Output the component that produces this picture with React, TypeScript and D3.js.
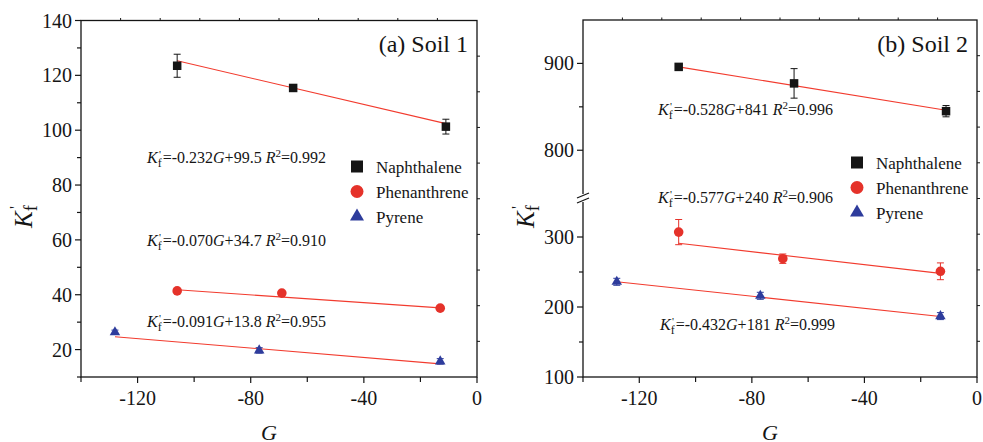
import React from 'react';
import * as d3 from 'd3';

// G values per compound
const gNaph = [-106, -65, -11];
const gPhen = [-106, -69, -13];
const gPyr = [-128, -77, -13];

// Soil 1
const soil1Naph = [123.5, 115.4, 101.3];
const soil1NaphErr = [4.2, 1, 2.7];
const soil1Phen = [41.4, 40.6, 35.1];
const soil1PhenErr = [0.8, 0.8, 0.8];
const soil1Pyr = [26.3, 19.7, 15.7];
const soil1PyrErr = [0.8, 1, 1];
const soil1Fit = [[125.3, 102.4], [41.8, 35.2], [24.7, 14.8]];
const soil1Eq = ['-0.232', '99.5', '0.992', '-0.070', '34.7', '0.910', '-0.091', '13.8', '0.955'];

// Soil 2
const soil2Naph = [896, 877, 845];
const soil2NaphErr = [3, 17, 6.5];
const soil2Phen = [307, 269, 251];
const soil2PhenErr = [18, 6.7, 12];
const soil2Pyr = [236, 216, 187];
const soil2PyrErr = [5, 5, 5];
const soil2Fit = [[896, 846], [291, 248], [236, 186.5]];
const soil2Eq = ['-0.528', '841', '0.996', '-0.577', '240', '0.906', '-0.432', '181', '0.999'];

const compounds = ['Naphthalene', 'Phenanthrene', 'Pyrene'];
const xMajor = [-120, -80, -40, 0];
const xMinor = [-140, -100, -60, -20];
const y1Major = [20, 40, 60, 80, 100, 120, 140];
const y1Minor = [10, 30, 50, 70, 90, 110, 130];
const y2Major = [100, 200, 300, 800, 900];
const y2Minor = [150, 250, 850];

const FONT = "'Liberation Serif', 'DejaVu Serif', serif";
const BLACK = '#151515';
const RED = '#e5322a';
const BLUE = '#2e3c9c';
const FIT = '#f23b2e';
const colors = [BLACK, RED, BLUE];

function Marker({ kind, x, y, big }: { kind: number; x: number; y: number; big?: boolean }) {
  if (kind === 0) {
    const s = big ? 12 : 8.5;
    return <rect x={x - s / 2} y={y - s / 2} width={s} height={s} fill={BLACK} />;
  }
  if (kind === 1) return <circle cx={x} cy={y} r={big ? 6.5 : 4.8} fill={RED} />;
  const side = big ? 14 : 10.5;
  const path = d3.symbol(d3.symbolTriangle, (Math.sqrt(3) / 4) * side * side)();
  return <path d={path || ''} transform={`translate(${x},${y})`} fill={BLUE} />;
}

function Equation({ x, y, a, b, r }: { x: number; y: number; a: string; b: string; r: string }) {
  return (
    <g fontFamily={FONT} fill={BLACK}>
      <text x={x} y={y} fontSize={16}>
        <tspan fontStyle="italic">K</tspan>
        <tspan fontSize={12} dy={4}>f</tspan>
        <tspan dy={-4} dx={1}>={a}</tspan>
        <tspan fontStyle="italic">G</tspan>
        <tspan>+{b} </tspan>
        <tspan fontStyle="italic">R</tspan>
        <tspan fontSize={11} dy={-6}>2</tspan>
        <tspan dy={6}>={r}</tspan>
      </text>
      <text x={x + 12} y={y - 5} fontSize={11}>'</text>
    </g>
  );
}

type PanelProps = {
  left: number;
  right: number;
  top: number;
  bottom: number;
  y: (v: number) => number;
  yMajor: number[];
  yMinor: number[];
  series: number[][];
  errs: number[][];
  fits: number[][];
  eq: string[];
  eqPos: number[][];
  title: string;
  legendX: number;
  legendY: number;
  broken?: boolean;
};

function Panel(p: PanelProps) {
  const x = d3.scaleLinear().domain([-140, 0]).range([p.left, p.right]);
  const gs = [gNaph, gPhen, gPyr];
  const frac = d3.range(1, 10).map((i) => i / 10);
  return (
    <g fontFamily={FONT}>
      {/* fit lines */}
      {p.fits.map((f, i) => (
        <line key={'f' + i} x1={x(gs[i][0])} y1={p.y(f[0])} x2={x(gs[i][2])} y2={p.y(f[1])} stroke={FIT} strokeWidth={1.1} />
      ))}
      {/* error bars */}
      {p.series.map((s, i) =>
        s.map((v, j) => {
          const cx = x(gs[i][j]);
          const y0 = p.y(v - p.errs[i][j]);
          const y1 = p.y(v + p.errs[i][j]);
          return (
            <g key={`e${i}-${j}`} stroke={colors[i]} strokeWidth={1}>
              <line x1={cx} x2={cx} y1={y0} y2={y1} />
              <line x1={cx - 3.5} x2={cx + 3.5} y1={y0} y2={y0} />
              <line x1={cx - 3.5} x2={cx + 3.5} y1={y1} y2={y1} />
            </g>
          );
        })
      )}
      {p.series.map((s, i) =>
        s.map((v, j) => <Marker key={`m${i}-${j}`} kind={i} x={x(gs[i][j])} y={p.y(v)} />)
      )}
      {/* frame */}
      <rect x={p.left} y={p.top} width={p.right - p.left} height={p.bottom - p.top} fill="none" stroke={BLACK} strokeWidth={1.3} />
      {/* bottom axis */}
      {xMajor.map((t) => (
        <g key={'xm' + t}>
          <line x1={x(t)} x2={x(t)} y1={p.bottom} y2={p.bottom + 6} stroke={BLACK} strokeWidth={1.2} />
          <text x={x(t)} y={p.bottom + 28} textAnchor="middle" fontSize={20} fill={BLACK}>{t}</text>
        </g>
      ))}
      {xMinor.map((t) => (
        <line key={'xn' + t} x1={x(t)} x2={x(t)} y1={p.bottom} y2={p.bottom + 5} stroke={BLACK} strokeWidth={1.2} />
      ))}
      {/* left axis */}
      {p.yMajor.map((t) => (
        <g key={'ym' + t}>
          <line x1={p.left - 6} x2={p.left} y1={p.y(t)} y2={p.y(t)} stroke={BLACK} strokeWidth={1.2} />
          <text x={p.left - 9} y={p.y(t)} dy="0.35em" textAnchor="end" fontSize={20} fill={BLACK}>{t}</text>
        </g>
      ))}
      {p.yMinor.map((t) => (
        <line key={'yn' + t} x1={p.left - 4} x2={p.left} y1={p.y(t)} y2={p.y(t)} stroke={BLACK} strokeWidth={1.2} />
      ))}
      {/* top and right ticks */}
      {frac.map((f) => {
        const tx = p.left + f * (p.right - p.left);
        const ty = p.top + f * (p.bottom - p.top);
        return (
          <g key={'tr' + f} stroke={BLACK} strokeWidth={1}>
            <line x1={tx} x2={tx} y1={p.top} y2={p.top - 2.5} />
            <line x1={p.right} x2={p.right + 3} y1={ty} y2={ty} />
          </g>
        );
      })}
      {p.broken && (
        <g stroke={BLACK} strokeWidth={1.3}>
          <rect x={p.left - 6} y={194} width={12} height={8} fill="white" stroke="none" />
          <line x1={p.left - 6} y1={198} x2={p.left + 6} y2={193} />
          <line x1={p.left - 6} y1={203} x2={p.left + 6} y2={198} />
        </g>
      )}
      {/* title */}
      <text x={p.right - 9} y={52} textAnchor="end" fontSize={24} fill={BLACK}>{p.title}</text>
      {/* legend */}
      {compounds.map((c, i) => (
        <g key={c}>
          <Marker kind={i} x={p.legendX} y={p.legendY + i * 25} big />
          <text x={p.legendX + 19} y={p.legendY + i * 25 + 6} fontSize={17} fill={BLACK}>{c}</text>
        </g>
      ))}
      {/* equations */}
      {p.eqPos.map((pos, i) => (
        <Equation key={'eq' + i} x={pos[0]} y={pos[1]} a={p.eq[i * 3]} b={p.eq[i * 3 + 1]} r={p.eq[i * 3 + 2]} />
      ))}
      {/* axis titles */}
      <text x={(p.left + p.right) / 2 - 10} y={440} textAnchor="middle" fontSize={22} fontStyle="italic" fill={BLACK}>G</text>
      <g transform={`translate(${p.left - 49},228) rotate(-90)`}>
        <text x={0} y={0} fontSize={25} fill={BLACK}>
          <tspan fontStyle="italic">K</tspan>
          <tspan fontSize={18} dy={5}>f</tspan>
        </text>
        <text x={19} y={-11} fontSize={17} fill={BLACK}>'</text>
      </g>
    </g>
  );
}

export default function App() {
  const y1 = d3.scaleLinear().domain([10, 140]).range([377, 20.5]);
  const y2Low = d3.scaleLinear().domain([100, 350]).range([377, 202]);
  const y2High = d3.scaleLinear().domain([745, 950]).range([198, 20]);
  const y2 = (v: number) => (v >= 600 ? y2High(v) : y2Low(v));

  return (
    <svg width={983} height={442} style={{ position: 'absolute', left: 0, top: 0, background: 'white' }}>
      <rect width={983} height={442} fill="white" />
      <Panel
        left={81}
        right={477}
        top={20.5}
        bottom={377}
        y={y1}
        yMajor={y1Major}
        yMinor={y1Minor}
        series={[soil1Naph, soil1Phen, soil1Pyr]}
        errs={[soil1NaphErr, soil1PhenErr, soil1PyrErr]}
        fits={soil1Fit}
        eq={soil1Eq}
        eqPos={[[147, 163], [147, 246], [147, 327]]}
        title="(a) Soil 1"
        legendX={357}
        legendY={166.5}
      />
      <Panel
        left={583}
        right={977}
        top={20}
        bottom={377}
        y={y2}
        yMajor={y2Major}
        yMinor={y2Minor}
        series={[soil2Naph, soil2Phen, soil2Pyr]}
        errs={[soil2NaphErr, soil2PhenErr, soil2PyrErr]}
        fits={soil2Fit}
        eq={soil2Eq}
        eqPos={[[658, 115], [658, 203], [660, 330]]}
        title="(b) Soil 2"
        legendX={857}
        legendY={162.5}
        broken
      />
    </svg>
  );
}
